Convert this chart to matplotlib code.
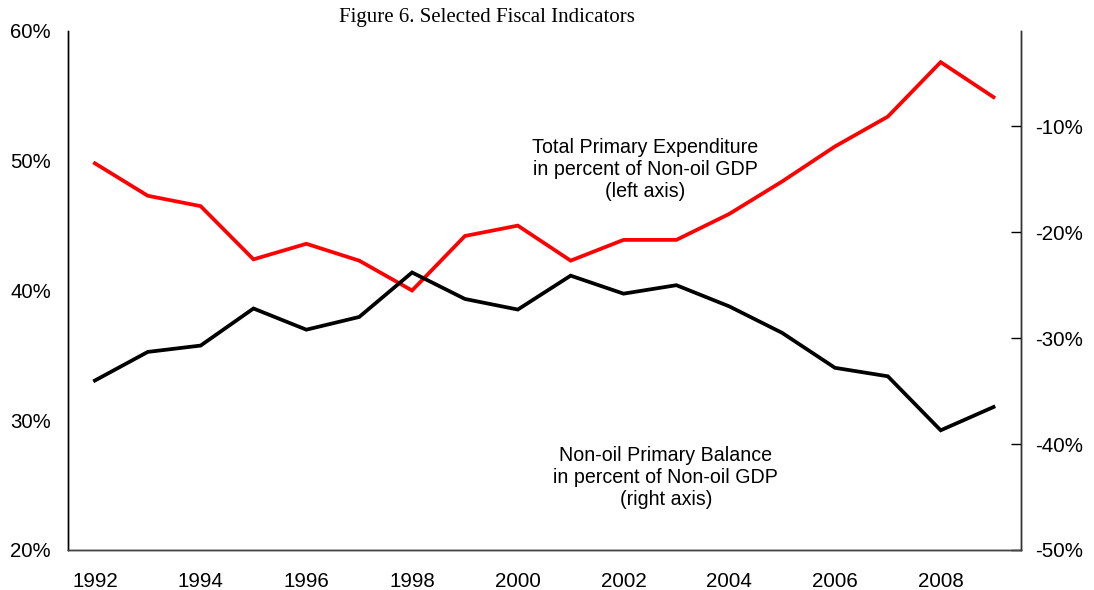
import numpy as np
import matplotlib
matplotlib.use("Agg")
import matplotlib.pyplot as plt
from matplotlib.ticker import FuncFormatter

# Data
years = list(range(1992, 2010))
expenditure = [49.8, 47.3, 46.5, 42.4, 43.6, 42.3, 40.0, 44.2, 45.0,
               42.3, 43.9, 43.9, 45.9, 48.4, 51.1, 53.4, 57.6, 54.9]
balance = [-34.0, -31.3, -30.7, -27.2, -29.2, -28.0, -23.8, -26.3, -27.3,
           -24.1, -25.8, -25.0, -27.0, -29.5, -32.8, -33.6, -38.7, -36.5]
left_ticks = [20, 30, 40, 50, 60]
right_ticks = [-50, -40, -30, -20, -10]
x_ticks = list(range(1992, 2010, 2))

plt.rcParams['font.family'] = ['Liberation Sans', 'DejaVu Sans']

fig = plt.figure(figsize=(10.94, 5.90), dpi=100)
ax = fig.add_axes([0.0626, 0.0678, 0.8707, 0.8797])
ax2 = ax.twinx()

ax.plot(years, expenditure, color='#ff0000', lw=2.7, solid_joinstyle='miter')
ax2.plot(years, balance, color='black', lw=2.7, solid_joinstyle='miter')

ax.set_xlim(1991.5, 2009.52)
ax.set_ylim(20, 60)
ax2.set_ylim(-50, -1.0)

pct = FuncFormatter(lambda v, p: f"{v:.0f}%")
ax.set_yticks(left_ticks)
ax.yaxis.set_major_formatter(pct)
ax2.set_yticks(right_ticks)
ax2.yaxis.set_major_formatter(pct)
ax.set_xticks(x_ticks)

ax.tick_params(axis='y', length=0, labelsize=14.7, pad=12.5)
ax.tick_params(axis='x', length=0, labelsize=14.8, pad=16)
ax2.tick_params(axis='y', direction='in', length=7, width=1, labelsize=14.8, pad=10.5)

for a in (ax, ax2):
    a.spines['top'].set_visible(False)
    a.spines['left'].set_linewidth(1.0)
    a.spines['bottom'].set_linewidth(1.0)
    a.spines['right'].set_linewidth(1.0)
ax2.spines['bottom'].set_color('#444444')
ax2.spines['right'].set_color('#333333')

fig.text(0.445, 0.970, "Figure 6. Selected Fiscal Indicators",
         family='Liberation Serif', fontsize=15, ha='center', va='center')

ax.text(2002.41, 49.3, "Total Primary Expenditure\nin percent of Non-oil GDP\n(left axis)",
        fontsize=14.1, ha='center', va='center', linespacing=1.2)
ax.text(2002.8, 25.6, "Non-oil Primary Balance\nin percent of Non-oil GDP\n(right axis)",
        fontsize=14.1, ha='center', va='center', linespacing=1.2)

fig.savefig("out.png", dpi=100)
